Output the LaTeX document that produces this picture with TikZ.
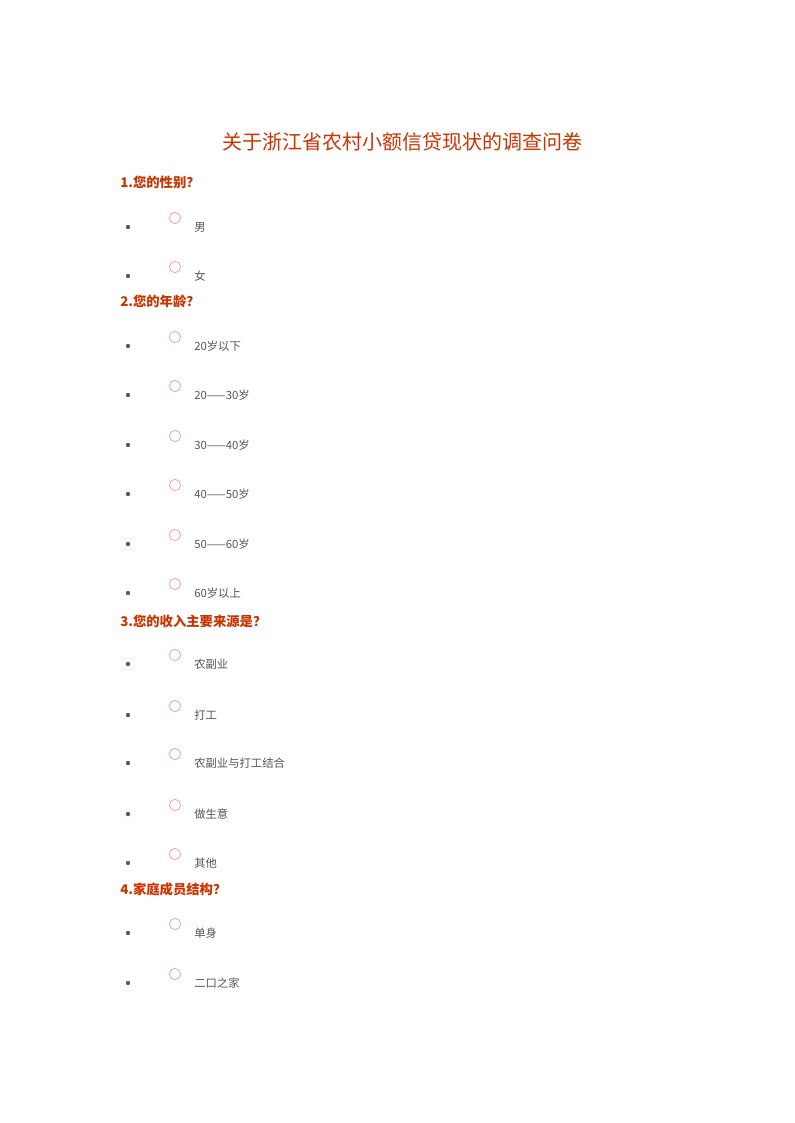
\documentclass[tikz,border=0pt]{standalone}
\usepackage{fontspec}
\newfontfamily\cjk{Noto Sans CJK SC}
\newfontfamily\cjkb{Noto Sans CJK SC Bold}
\definecolor{qred}{HTML}{CC3300}
\definecolor{otext}{HTML}{555555}
\definecolor{bul}{HTML}{6B5A45}
\definecolor{rad}{HTML}{F0A8C8}
\begin{document}
\begin{tikzpicture}[x=0.75pt,y=-0.75pt,
  q/.style={anchor=west,inner sep=0,text=qred,font=\cjk\bfseries\fontsize{10}{12}\selectfont},
  opt/.style={anchor=west,inner sep=0,text=otext,font=\cjk\fontsize{8.5}{10}\selectfont},
  radio/.style={circle,draw=rad,fill=white,line width=0.7pt,minimum size=8.5pt,inner sep=0}]
\useasboundingbox (0,0) rectangle (794,1123);
\node[text=qred,font=\cjk\fontsize{15}{18}\selectfont,inner sep=0] (t) at (402,142) {关于浙江省农村小额信贷现状的调查问卷};
\node[q] (q1) at (120,182) {1.您的性别？};
\node[q] (q2) at (120,301) {2.您的年龄？};
\node[q] (q3) at (120,621) {3.您的收入主要来源是？};
\node[q] (q4) at (120,889) {4.家庭成员结构？};
\foreach \y/\t [count=\i] in {227/男,276/女,346/20岁以下,395/20——30岁,445/30——40岁,494/40——50岁,544/50——60岁,593/60岁以上,664/农副业,715/打工,763/农副业与打工结合,814/做生意,863/其他,933/单身,983/二口之家}{
  \fill[bul] (128,\y) circle (2.2);
  \node[radio] (r\i) at (175,\y-9) {};
  \node[opt] (o\i) at (194,\y) {\t};
}
\end{tikzpicture}
\end{document}
